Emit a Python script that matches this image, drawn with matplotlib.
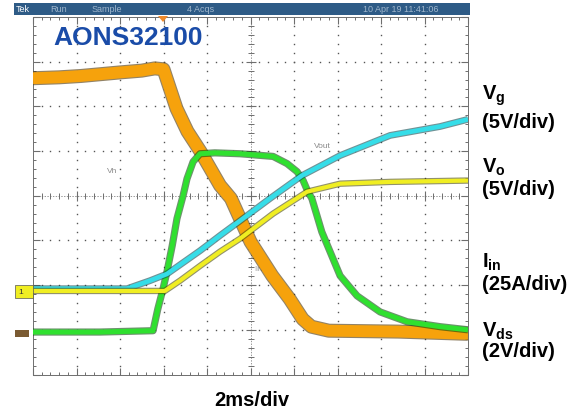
import numpy as np
import matplotlib.pyplot as plt
from matplotlib.patches import Rectangle, Polygon
import matplotlib.patheffects as pe

plt.rcParams['font.family'] = ['Liberation Sans', 'DejaVu Sans']
plt.rcParams['mathtext.fontset'] = 'custom'
plt.rcParams['mathtext.bf'] = 'Liberation Sans:bold'
plt.rcParams['mathtext.rm'] = 'Liberation Sans:bold'
plt.rcParams['mathtext.it'] = 'Liberation Sans:bold'

# traces, in divisions (10 x 8 graticule)
vds_x = [0, 0.6, 1.1, 2.0, 2.5, 2.8, 3.0, 3.3, 3.55, 3.85, 4.3, 4.55, 5.0, 5.5, 5.9, 6.2, 6.4, 6.8, 8.4, 10]
vds_y = [6.63, 6.65, 6.68, 6.76, 6.80, 6.85, 6.83, 5.95, 5.44, 4.99, 4.23, 3.94, 2.97, 2.21, 1.69, 1.24, 1.07, 0.98, 0.96, 0.91]

iin_x = [0, 1.54, 2.76, 2.87, 2.99, 3.08, 3.20, 3.31, 3.45, 3.54, 3.68, 3.84, 4.18, 4.76, 5.52, 5.84,
         6.07, 6.21, 6.32, 6.41, 6.64, 7.06, 7.45, 7.98, 8.60, 9.36, 10]
iin_y = [0.95, 0.95, 0.98, 1.47, 1.92, 2.30, 2.88, 3.49, 4.00, 4.38, 4.76, 4.94, 4.96, 4.94, 4.88, 4.72,
         4.54, 4.34, 4.09, 3.94, 3.19, 2.21, 1.76, 1.40, 1.18, 1.07, 1.00]

vg_x = [0, 2.16, 2.69, 3.08, 3.84, 4.30, 4.76, 5.45, 6.18, 7.06, 8.21, 9.36, 10]
vg_y = [1.92, 1.92, 2.10, 2.25, 2.77, 3.11, 3.44, 3.94, 4.45, 4.90, 5.35, 5.55, 5.71]

vo_x = [0, 3.03, 3.38, 3.84, 4.30, 4.76, 5.52, 6.30, 7.06, 8.21, 10]
vo_y = [1.87, 1.87, 2.10, 2.43, 2.75, 3.04, 3.60, 4.09, 4.27, 4.31, 4.34]

labels = [r'$\mathbf{V_{g}}$', '(5V/div)', r'$\mathbf{V_{o}}$', '(5V/div)',
          r'$\mathbf{I_{in}}$', '(25A/div)', r'$\mathbf{V_{ds}}$', '(2V/div)']
label_y = [96, 123, 167, 190, 262, 285, 331, 352]

W, H = 581, 410
fig = plt.figure(figsize=(W / 100, H / 100), dpi=100)
ax = fig.add_axes([33 / W, 1 - 375.5 / H, 435 / W, 357.5 / H])
ax.set_xlim(0, 10)
ax.set_ylim(0, 8)

# graticule
gc = '#6e6e6e'
dots_y = np.arange(0.2, 8, 0.2)
dots_x = np.arange(0.2, 10, 0.2)
for gx in [1, 2, 3, 4, 6, 7, 8, 9]:
    ax.plot(np.full_like(dots_y, gx), dots_y, ls='none', marker='s', ms=1.0, mew=0, color='#555', zorder=1)
for gy in [1, 2, 3, 5, 6, 7]:
    ax.plot(dots_x, np.full_like(dots_x, gy), ls='none', marker='s', ms=1.0, mew=0, color='#555', zorder=1)
ax.axvline(5, color=gc, lw=0.5, ls=(0, (2, 2)), zorder=1)
ax.axhline(4, color=gc, lw=0.5, ls=(0, (2, 2)), zorder=1)
ax.plot(np.full_like(dots_y, 5), dots_y, ls='none', marker='_', ms=4, mew=0.7, color=gc, zorder=1)
ax.plot(dots_x, np.full_like(dots_x, 4), ls='none', marker='|', ms=4, mew=0.7, color=gc, zorder=1)
ax.plot(np.full(7, 5), np.arange(1, 8), ls='none', marker='_', ms=7, mew=0.8, color=gc, zorder=1)
ax.plot(np.arange(1, 10), np.full(9, 4), ls='none', marker='|', ms=7, mew=0.8, color=gc, zorder=1)

for s in ax.spines.values():
    s.set_color(gc)
    s.set_linewidth(0.7)
    s.set_linestyle((0, (2, 1)))
ax.set_xticks(np.arange(0, 10.01, 1))
ax.set_yticks(np.arange(0, 8.01, 1))
ax.set_xticks(np.arange(0, 10.01, 0.2), minor=True)
ax.set_yticks(np.arange(0, 8.01, 0.2), minor=True)
ax.tick_params(which='both', direction='in', top=True, right=True, labelbottom=False, labelleft=False, color=gc)
ax.tick_params(which='major', length=5, width=0.8)
ax.tick_params(which='minor', length=2.5, width=0.7)


def trace(x, y, col, lw, z, edge):
    ax.plot(x, y, color=col, lw=lw, solid_capstyle='butt', solid_joinstyle='round', zorder=z,
            path_effects=[pe.Stroke(linewidth=lw + 1.6, foreground=edge, alpha=0.6), pe.Normal()])


trace(vds_x, vds_y, '#f6a20c', 8.5, 3, '#4a3000')
trace(iin_x, iin_y, '#2fe02f', 3.6, 4, '#0c4a0c')
trace(vg_x, vg_y, '#35dde8', 3.3, 5, '#124a50')
trace(vo_x, vo_y, '#f0ee22', 3.0, 6, '#4a4a08')

# faint channel notes on the screen
ax.text((112 - 33) / 43.5, (375.5 - 172) / 44.6, 'Vh', fontsize=6, color='#8a8a8a', ha='center', va='center')
ax.text((322 - 33) / 43.5, (375.5 - 147) / 44.6, 'Vout', fontsize=6, color='#8a8a8a', ha='center', va='center')
ax.text((258 - 33) / 43.5, (375.5 - 270) / 44.6, 'Iin', fontsize=5.5, color='#9a9a9a', ha='center', va='center', zorder=2)

# scope status bar
fig.patches.append(Rectangle((14 / W, 1 - 16 / H), 456 / W, 12 / H, transform=fig.transFigure,
                             facecolor='#2e5b86', edgecolor='none'))
bar_y = 1 - 10 / H
fig.text(16 / W, bar_y, 'Tek', fontsize=6.5, color='white', va='center')
for bx, bt in [(50, 'Run'), (92, 'Sample'), (187, '4 Acqs'), (363, '10 Apr 19 11:41:06')]:
    fig.text(bx / W, bar_y, bt, fontsize=6.5, color='#9fb6cc', va='center')

# trigger position marker
fig.patches.append(Polygon([(158 / W, 1 - 17 / H), (168 / W, 1 - 17 / H), (163 / W, 1 - 23 / H)],
                           closed=True, transform=fig.transFigure, facecolor='#f08a2a', edgecolor='none'))

# ground markers on the left
fig.patches.append(Rectangle((15 / W, 1 - 299 / H), 18 / W, 13 / H, transform=fig.transFigure,
                             facecolor='#f0ee22', edgecolor='#555', lw=0.5))
fig.text(21 / W, 1 - 292.5 / H, '1', fontsize=6, color='#333', va='center', ha='center')
fig.patches.append(Rectangle((15 / W, 1 - 338 / H), 14 / W, 7 / H, transform=fig.transFigure,
                             facecolor='#7a5a32', edgecolor='none'))

fig.text(53 / W, 1 - 38 / H, 'AONS32100', fontsize=19, fontweight='bold', color='#1a4ca8', va='center')

for t, yy in zip(labels, label_y):
    fig.text(482 / W, 1 - yy / H, t, fontsize=14.5, fontweight='bold', color='black', va='center')

fig.text(252 / W, 1 - 401 / H, '2ms/div', fontsize=14.5, fontweight='bold', color='black', va='center', ha='center')

fig.savefig('out.png', dpi=100)
